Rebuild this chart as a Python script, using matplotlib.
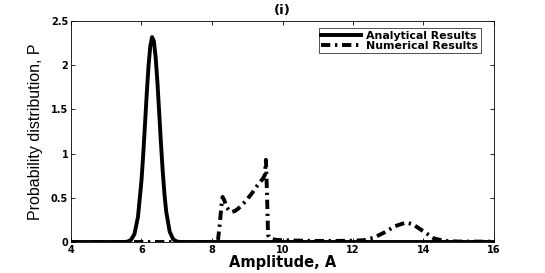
import numpy as np
import matplotlib.pyplot as plt

plt.rcParams['font.family'] = ['DejaVu Sans']

# Analytical results
amp_an = [4.0, 5.5, 5.6, 5.7, 5.8, 5.9, 6.0, 6.05, 6.1, 6.15, 6.2, 6.25, 6.3,
          6.35, 6.4, 6.45, 6.5, 6.55, 6.6, 6.65, 6.7, 6.8, 6.9, 7.0, 7.1, 16.0]
p_an = [0.0, 0.0, 0.004, 0.022, 0.090, 0.284, 0.698, 0.997, 1.337, 1.685, 1.995,
        2.218, 2.318, 2.274, 2.097, 1.816, 1.477, 1.129, 0.811, 0.547, 0.346,
        0.116, 0.030, 0.006, 0.0, 0.0]

# Numerical results
amp_num = [4.0, 8.1, 8.17, 8.22, 8.27, 8.3, 8.35, 8.42, 8.5, 8.56, 8.65, 8.75,
           8.85, 8.95, 9.05, 9.15, 9.25, 9.35, 9.45, 9.5, 9.53, 9.56, 9.59,
           9.65, 9.8, 10.0, 10.5, 11.0, 11.5, 12.0, 12.3, 12.6, 12.9, 13.2,
           13.5, 13.7, 14.0, 14.3, 14.6, 15.0, 16.0]
p_num = [0.0, 0.0, 0.02, 0.2, 0.42, 0.51, 0.47, 0.39, 0.35, 0.34, 0.35, 0.38,
         0.42, 0.46, 0.51, 0.56, 0.62, 0.67, 0.72, 0.76, 0.93, 0.55, 0.08,
         0.04, 0.025, 0.02, 0.015, 0.012, 0.012, 0.015, 0.02, 0.05, 0.11, 0.18,
         0.22, 0.2, 0.12, 0.04, 0.012, 0.005, 0.004]

W, H = 545, 273
fig = plt.figure(figsize=(W/100, H/100), dpi=100)
ax = fig.add_axes([71/W, 1-242/H, (494-71)/W, (242-21)/H])

ax.plot(amp_an, p_an, color='black', linewidth=2.8, label='Analytical Results')
ax.plot(amp_num, p_num, color='black', linewidth=2.8,
        linestyle=(0, (2.4, 1.2, 0.6, 1.2)), label='Numerical Results')

ax.set_xlim(4, 16)
ax.set_ylim(0, 2.5)
ax.set_xticks([4, 6, 8, 10, 12, 14, 16])
ax.set_yticks([0, 0.5, 1, 1.5, 2, 2.5])
ax.set_yticklabels(['0', '0.5', '1', '1.5', '2', '2.5'])
ax.tick_params(direction='in', top=True, right=True, labelsize=7, length=3,
               width=0.6, pad=2)
for lbl in ax.get_xticklabels() + ax.get_yticklabels():
    lbl.set_fontweight('bold')
for s in ax.spines.values():
    s.set_linewidth(0.6)

ax.set_xlabel('Amplitude, A', fontsize=10.5, fontweight='bold', labelpad=0)
ax.set_ylabel('Probability distribution, P', fontsize=11.5, labelpad=6,
              family='Liberation Sans')
ax.set_title('(i)', fontsize=9.5, fontweight='bold', pad=5)

leg = ax.legend(loc='upper right', bbox_to_anchor=(486/W, 1-23/H),
                bbox_transform=fig.transFigure,
                prop={'weight': 'bold', 'size': 7.9},
                frameon=True, fancybox=False, edgecolor='black', borderpad=0.2,
                labelspacing=0.05, handlelength=3.6, handletextpad=0.5)
leg.get_frame().set_linewidth(0.6)

plt.savefig('out.png', dpi=100)
